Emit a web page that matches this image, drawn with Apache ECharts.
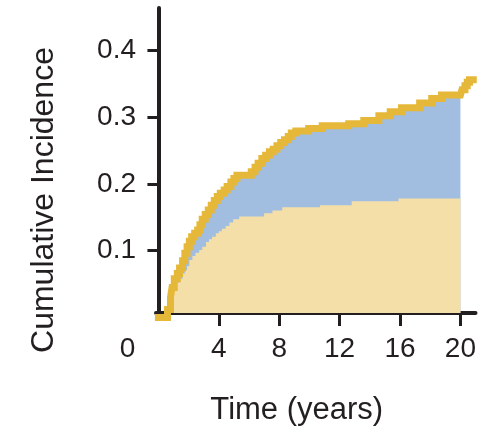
<!DOCTYPE html>
<html>
<head>
<meta charset="utf-8">
<script src="https://cdn.jsdelivr.net/npm/echarts@6/dist/echarts.min.js"></script>
<style>
html,body{margin:0;padding:0;background:#fff;}
#c{width:479px;height:435px;}
</style>
</head>
<body>
<div id="c"></div>
<script>
// Total cumulative incidence (gold step curve): [years, incidence]
const totalX = [0, 0.6, 0.8, 0.9, 1.05, 1.25, 1.4, 1.6, 1.75, 1.9, 2.05, 2.2, 2.4, 2.6, 2.75, 2.9, 3.1, 3.3, 3.5, 3.7, 3.9, 4.1, 4.35, 4.55, 4.8, 5.0, 5.2, 6.15, 6.4, 6.6, 6.85, 7.1, 7.35, 7.6, 7.85, 8.1, 8.35, 8.6, 8.8, 9.1, 9.95, 10.85, 12.6, 13.6, 14.6, 15.35, 16.1, 17.3, 18.1, 18.75, 20.0, 20.1, 20.3, 20.45, 20.6, 20.85];
const totalY = [0, 0.012, 0.030, 0.045, 0.058, 0.066, 0.074, 0.085, 0.096, 0.106, 0.114, 0.121, 0.126, 0.131, 0.139, 0.147, 0.154, 0.161, 0.168, 0.175, 0.181, 0.186, 0.191, 0.196, 0.203, 0.208, 0.213, 0.218, 0.225, 0.231, 0.238, 0.243, 0.248, 0.252, 0.257, 0.262, 0.266, 0.271, 0.276, 0.279, 0.283, 0.287, 0.290, 0.295, 0.302, 0.308, 0.314, 0.321, 0.328, 0.333, 0.333, 0.341, 0.347, 0.352, 0.356, 0.356];
// Shaded part ends at 20 years
const shadeEnd = 20.0;
// Lower component (beige area)
const lowerX = [0, 1.0, 1.2, 1.4, 1.6, 1.75, 1.9, 2.05, 2.25, 2.45, 2.7, 2.9, 3.15, 3.35, 3.55, 3.8, 4.0, 4.2, 4.45, 4.7, 4.95, 5.35, 7.0, 7.55, 8.2, 10.7, 12.8, 15.9, 20.0];
const lowerY = [0, 0.045, 0.052, 0.058, 0.066, 0.071, 0.077, 0.086, 0.092, 0.097, 0.101, 0.106, 0.113, 0.117, 0.121, 0.126, 0.129, 0.133, 0.137, 0.142, 0.147, 0.151, 0.156, 0.160, 0.165, 0.168, 0.174, 0.178, 0.178];

const xLabelValues = [0, 4, 8, 12, 16, 20];
const xTickValues = [4, 8, 12, 16, 20];
const yTickValues = [0.1, 0.2, 0.3, 0.4];
const xTitle = 'Time (years)';
const yTitle = 'Cumulative Incidence';

const totalData = totalX.map((x, i) => [x, totalY[i]]);
const shadeData = totalData.filter(d => d[0] <= shadeEnd);
const lowerData = lowerX.map((x, i) => [x, lowerY[i]]);

const ink = '#231f20';
const chart = echarts.init(document.getElementById('c'), null, {renderer: 'canvas'});
chart.setOption({
  animation: false,
  backgroundColor: '#ffffff',
  grid: {left: 156, right: 2, top: 8, bottom: 122, containLabel: false},
  xAxis: {
    type: 'value', min: -0.16, max: 21,
    splitLine: {show: false},
    axisLine: {show: true, lineStyle: {color: ink, width: 4}},
    axisTick: {show: true, customValues: xTickValues, length: 13, lineStyle: {color: ink, width: 3}},
    axisLabel: {
      customValues: xLabelValues, margin: 22, color: ink,
      fontFamily: 'Liberation Sans', fontSize: 28,
      formatter: v => v === 0 ? '{z|0}' : String(v),
      rich: {z: {padding: [0, 62, 0, 0], fontFamily: 'Liberation Sans', fontSize: 28, color: ink}}
    },
    name: xTitle, nameLocation: 'middle', nameGap: 82,
    nameTextStyle: {fontFamily: 'Liberation Sans', fontSize: 31, color: ink, padding: [0, 38, 0, 0]}
  },
  yAxis: {
    type: 'value', min: 0.0067, max: 0.4633,
    splitLine: {show: false},
    axisLine: {show: true, lineStyle: {color: ink, width: 4}},
    axisTick: {show: true, customValues: yTickValues, length: 11, lineStyle: {color: ink, width: 3}},
    axisLabel: {
      customValues: yTickValues, margin: 20, color: ink,
      fontFamily: 'Liberation Sans', fontSize: 28,
      formatter: v => v.toFixed(1)
    },
    name: yTitle, nameLocation: 'middle', nameGap: 96,
    nameTextStyle: {fontFamily: 'Liberation Sans', fontSize: 32, color: ink, padding: [0, 79, 0, 0]}
  },
  series: [
    {
      type: 'line', step: 'end', data: shadeData, showSymbol: false, z: 1,
      lineStyle: {width: 0, opacity: 0},
      areaStyle: {color: '#a1bde0', opacity: 1, origin: 'start'}
    },
    {
      type: 'line', step: 'end', data: lowerData, showSymbol: false, z: 2,
      lineStyle: {width: 0, opacity: 0},
      areaStyle: {color: '#f4dfa9', opacity: 1, origin: 'start'}
    },
    {
      type: 'line', step: 'end', data: totalData, showSymbol: false, z: 3, clip: false,
      lineStyle: {width: 7, color: '#e6b83a', cap: 'square', join: 'miter'}
    }
  ]
});
</script>
</body>
</html>
